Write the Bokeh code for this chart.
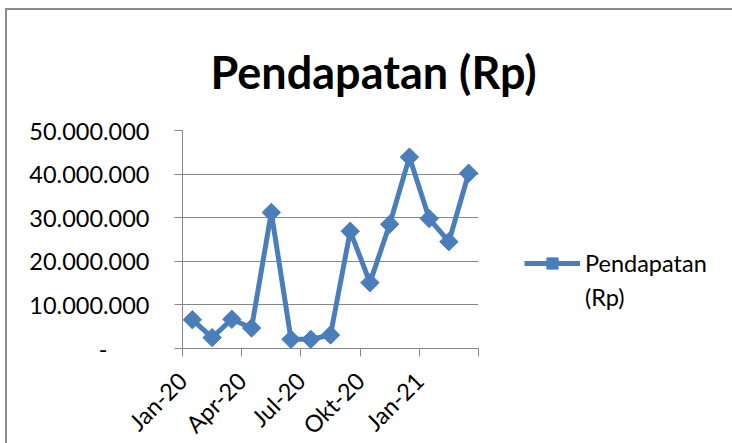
import math
from bokeh.plotting import figure
from bokeh.models import (Range1d, FixedTicker, Legend, LegendItem, ColumnDataSource, LinearAxis)
from bokeh.embed import file_html
from bokeh.resources import INLINE

# ---- data ----
months = ["Jan-20", "Feb-20", "Mar-20", "Apr-20", "Mei-20", "Jun-20", "Jul-20", "Agu-20",
          "Sep-20", "Okt-20", "Nov-20", "Des-20", "Jan-21", "Feb-21", "Mar-21"]
pendapatan = [6600000, 2500000, 6700000, 4700000, 31200000, 2100000, 2100000, 3100000,
              26900000, 15100000, 28500000, 43900000, 29800000, 24500000, 40200000]
y_ticks = [0, 10000000, 20000000, 30000000, 40000000, 50000000]
x_tick_labels = ["Jan-20", "Apr-20", "Jul-20", "Okt-20", "Jan-21"]
series_name = "Pendapatan (Rp)"
legend_lines = ["Pendapatan", "(Rp)"]

BLUE = "#4A7EBB"
GRAY = "#878787"
FONT = "Lato"

xs = [i + 0.5 for i in range(len(months))]
src = ColumnDataSource(dict(x=xs, y=pendapatan))
n = len(months)

p = figure(frame_width=296, frame_height=218, output_backend="svg", toolbar_location=None,
           x_range=Range1d(0, n), y_range=Range1d(y_ticks[0], y_ticks[-1]),
           min_border_left=175, min_border_right=253, min_border_top=111,
           min_border_bottom=103)
p.styles = {"margin-left": "5px", "margin-top": "8px",
            "border-left": "2px solid #8c8c8c", "border-top": "2px solid #8c8c8c"}
p.outline_line_color = None
p.background_fill_color = "white"
p.border_fill_color = "white"

# title
p.title.text = series_name
p.title.text_font = FONT
p.title.text_font_style = "bold"
p.title.text_font_size = "45px"
p.title.align = "left"
p.title.offset = 28
p.title.standoff = 64
p.title.text_color = "black"

# grid
p.xgrid.visible = False
p.ygrid.ticker = FixedTicker(ticks=y_ticks)
p.ygrid.grid_line_color = GRAY
p.ygrid.grid_line_width = 1

# y axis
yax = p.yaxis[0]
yax.ticker = FixedTicker(ticks=y_ticks)
nb = "\u00a0"
ov = {}
for t in y_ticks:
    ov[t] = f"{t:,}".replace(",", ".") if t else "-" + nb * 7
yax.major_label_overrides = ov
yax.major_label_text_font = FONT
yax.major_label_text_font_size = "23.5px"
yax.major_label_text_color = "black"
yax.axis_line_color = GRAY
yax.major_tick_line_color = GRAY
yax.major_tick_out = 8
yax.major_tick_in = 0
yax.minor_tick_line_color = None
yax.major_label_standoff = 25

# x axis: tick every 3 months
month_ticks = list(range(0, n + 1, 3))
xov = {}
for i, t in enumerate(month_ticks):
    xov[t] = x_tick_labels[i] if i < len(x_tick_labels) else ""
xax = p.xaxis[0]
xax.ticker = FixedTicker(ticks=month_ticks)
xax.major_label_overrides = xov
xax.major_label_orientation = math.pi / 4
xax.major_label_text_font = FONT
xax.major_label_text_font_size = "23.5px"
xax.major_label_text_color = "black"
xax.major_label_standoff = 20
xax.axis_line_color = GRAY
xax.major_tick_line_color = GRAY
xax.major_tick_out = 8
xax.major_tick_in = 0
xax.minor_tick_line_color = None

# series
ln = p.line("x", "y", source=src, line_color=BLUE, line_width=5)
mk = p.scatter("x", "y", source=src, marker="square", size=13, angle=math.pi / 4,
               fill_color=BLUE, line_color=BLUE)
blank = p.line(x=[], y=[], line_alpha=0)

legend = Legend(items=[LegendItem(label=legend_lines[0], renderers=[ln, mk]),
                       LegendItem(label=legend_lines[1], renderers=[blank])],
                location=(46, 37), padding=0, margin=0, spacing=6,
                border_line_color=None, background_fill_alpha=0,
                glyph_width=56, glyph_height=28, label_standoff=5,
                label_text_font=FONT, label_text_font_size="23.5px",
                label_text_color="black")
p.add_layout(legend, "right")

open("out.html", "w").write(file_html(p, INLINE))
